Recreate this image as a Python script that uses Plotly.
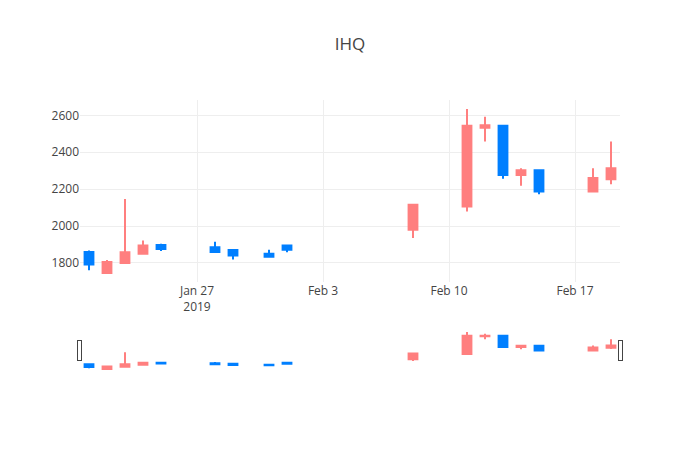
import plotly.graph_objects as go

dates = ["2019-01-21", "2019-01-22", "2019-01-23", "2019-01-24", "2019-01-25",
         "2019-01-28", "2019-01-29", "2019-01-31", "2019-02-01",
         "2019-02-08", "2019-02-11", "2019-02-12", "2019-02-13", "2019-02-14",
         "2019-02-15", "2019-02-18", "2019-02-19"]
open_ = [1859, 1746, 1800, 1850, 1897, 1885, 1870, 1850, 1895,
         1980, 2106, 2533, 2544, 2277, 2303, 2187, 2254]
high = [1868, 1816, 2146, 1921, 1904, 1915, 1870, 1872, 1895,
        2115, 2634, 2593, 2544, 2313, 2303, 2313, 2458]
low = [1760, 1746, 1800, 1848, 1865, 1859, 1818, 1834, 1858,
       1935, 2079, 2458, 2256, 2218, 2173, 2187, 2227]
close = [1791, 1805, 1858, 1895, 1876, 1859, 1841, 1834, 1872,
         2115, 2544, 2546, 2277, 2303, 2187, 2261, 2313]

UP = "#FF7F7F"
DOWN = "#007FFF"

fig = go.Figure(go.Candlestick(
    x=dates, open=open_, high=high, low=low, close=close,
    increasing=dict(line=dict(color=UP), fillcolor=UP),
    decreasing=dict(line=dict(color=DOWN), fillcolor=DOWN),
))
fig.update_layout(
    template="none",
    width=700, height=450,
    margin=dict(l=80, r=80, t=100, b=80),
    title=dict(text="IHQ", x=0.5, xanchor="center"),
    showlegend=False,
    xaxis=dict(gridcolor="#eee"),
    yaxis=dict(gridcolor="#eee"),
)
fig.write_html("out.html", config={"displayModeBar": False},
               post_script="document.body.style.margin='0';")
